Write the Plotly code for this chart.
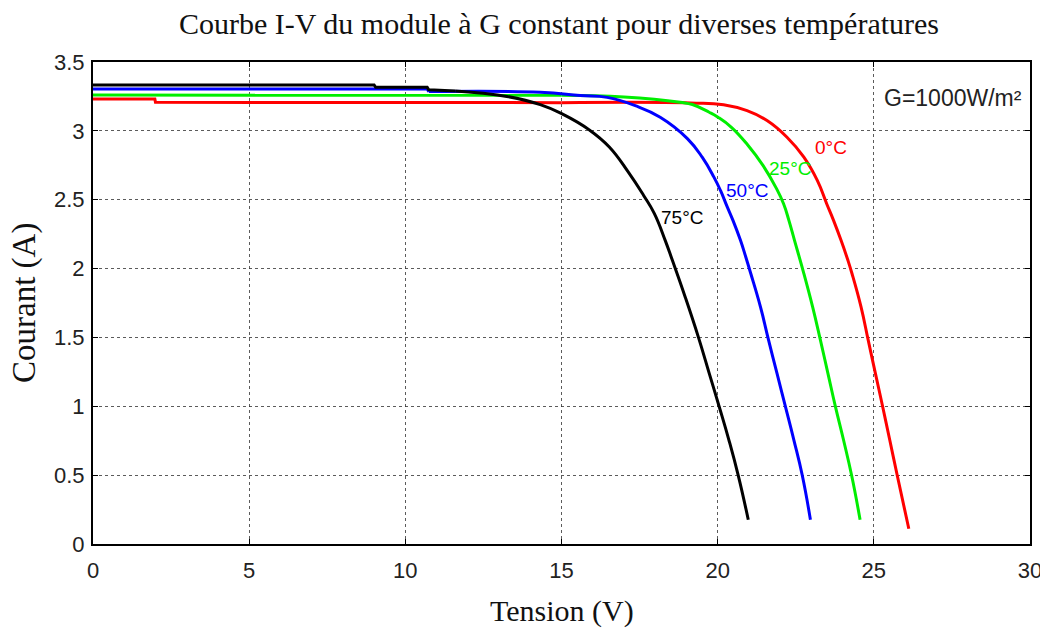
import plotly.graph_objects as go

# ---- data (Tension V, Courant A) ----
temps = ["0°C", "25°C", "50°C", "75°C"]

v_0 = [0, 1.98, 2.0, 15.0, 19.13, 20.19, 20.94, 21.58, 22.22, 22.76, 23.19, 23.49,
       23.71, 23.95, 24.17, 24.30, 24.59, 24.82, 25.05, 25.28, 25.51, 25.75, 26.12]
i_0 = [3.232, 3.232, 3.207, 3.205, 3.203, 3.19, 3.147, 3.075, 2.954, 2.809, 2.640, 2.471,
       2.35, 2.205, 2.06, 1.964, 1.722, 1.48, 1.239, 1.0, 0.755, 0.497, 0.111]

v_25 = [0, 15.0, 17.0, 18.8, 19.19, 19.73, 20.01, 20.44, 20.95, 21.45, 21.88, 22.11,
        22.28, 22.46, 22.76, 23.04, 23.29, 23.53, 23.77, 24.03, 24.29, 24.56]
i_25 = [3.26, 3.258, 3.245, 3.207, 3.191, 3.135, 3.099, 3.026, 2.901, 2.749, 2.582, 2.471,
        2.35, 2.205, 1.964, 1.722, 1.48, 1.239, 0.997, 0.755, 0.497, 0.176]

v_50 = [0, 10.7, 10.75, 14.32, 15.60, 16.46, 17.36, 18.16, 19.03, 19.51, 19.88, 20.09,
        20.31, 20.49, 20.73, 20.90, 21.06, 21.37, 21.63, 21.90, 22.17, 22.44, 22.71, 22.97]
i_50 = [3.304, 3.304, 3.285, 3.28, 3.256, 3.243, 3.183, 3.099, 2.944, 2.807, 2.664, 2.567,
        2.446, 2.35, 2.205, 2.084, 1.964, 1.722, 1.48, 1.239, 0.997, 0.755, 0.497, 0.176]

v_75 = [0, 9.0, 9.05, 10.7, 10.75, 11.6, 12.39, 13.25, 14.32, 15.02, 15.89, 16.53,
        17.14, 17.63, 17.97, 18.32, 18.55, 18.96, 19.38, 19.73, 20.05, 20.36, 20.66, 20.98]
i_75 = [3.333, 3.333, 3.316, 3.316, 3.298, 3.29, 3.275, 3.25, 3.19, 3.123, 3.007, 2.883,
        2.70, 2.531, 2.401, 2.205, 2.06, 1.794, 1.504, 1.239, 0.997, 0.755, 0.497, 0.176]

x_ticks = [0, 5, 10, 15, 20, 25, 30]
y_ticks = [0, 0.5, 1, 1.5, 2, 2.5, 3, 3.5]
y_tick_labels = ["0", "0.5", "1", "1.5", "2", "2.5", "3", "3.5"]

colors = ["#ff0000", "#00ee00", "#0000ff", "#000000"]
series = [(v_0, i_0), (v_25, i_25), (v_50, i_50), (v_75, i_75)]
# index where the flat (stepped) part ends and the curved knee begins
knee_start = [3, 1, 2, 5]

fig = go.Figure()
for (vx, iy), col, name, k in zip(series, colors, temps, knee_start):
    # flat plateau: straight segments (keeps the small simulation steps)
    fig.add_trace(go.Scatter(x=vx[:k + 1], y=iy[:k + 1], mode="lines", name=name,
                             line=dict(color=col, width=3), showlegend=False))
    # knee and drop: smooth curve
    fig.add_trace(go.Scatter(x=vx[k:], y=iy[k:], mode="lines", name=name,
                             line=dict(color=col, width=3, shape="spline", smoothing=1.3),
                             showlegend=False))

# curve labels
label_pos = [(23.62, 2.88), (22.33, 2.73), (20.93, 2.57), (18.87, 2.37)]
for (lx, ly), name, col in zip(label_pos, temps, colors):
    fig.add_annotation(x=lx, y=ly, text=name, showarrow=False,
                       font=dict(family="Liberation Sans", size=19, color=col))

fig.add_annotation(x=27.52, y=3.241, text="G=1000W/m²", showarrow=False,
                   font=dict(family="Liberation Sans", size=23, color="#222222"))

# axis titles
fig.add_annotation(xref="paper", yref="paper", x=0.5, y=0, yshift=-67,
                   text="Tension (V)", showarrow=False, yanchor="middle",
                   font=dict(family="Liberation Serif", size=30, color="#111111"))
fig.add_annotation(xref="paper", yref="paper", x=0, y=0.5, xshift=-69,
                   text="Courant (A)", showarrow=False, textangle=-90,
                   xanchor="center", yanchor="middle",
                   font=dict(family="Liberation Serif", size=33, color="#111111"))

axis_common = dict(
    showline=True, linecolor="black", linewidth=2, mirror="ticks",
    ticks="inside", ticklen=5, tickcolor="black", tickwidth=1,
    showgrid=True, gridcolor="rgba(50,50,50,0.8)", griddash="dot", gridwidth=1,
    zeroline=False, automargin=False,
    tickfont=dict(family="Liberation Sans", size=22, color="#222222"),
)

fig.update_xaxes(range=[0, 30], tickvals=x_ticks, ticklabelstandoff=6, **axis_common)
fig.update_yaxes(range=[0, 3.5], tickvals=y_ticks, ticktext=y_tick_labels,
                 ticklabelstandoff=2, **axis_common)

# page body has an 8px default margin: figure is sized/offset to compensate
fig.update_layout(
    width=1040, height=622,
    margin=dict(l=85, r=18, t=54, b=86),
    plot_bgcolor="white", paper_bgcolor="white",
    title=dict(text="Courbe I-V du module à G constant pour diverses températures",
               x=0.5298, xanchor="center", y=1 - 15 / 622, yanchor="middle",
               yref="container",
               font=dict(family="Liberation Serif", size=30, color="#111111")),
)

fig.write_html("out.html")
